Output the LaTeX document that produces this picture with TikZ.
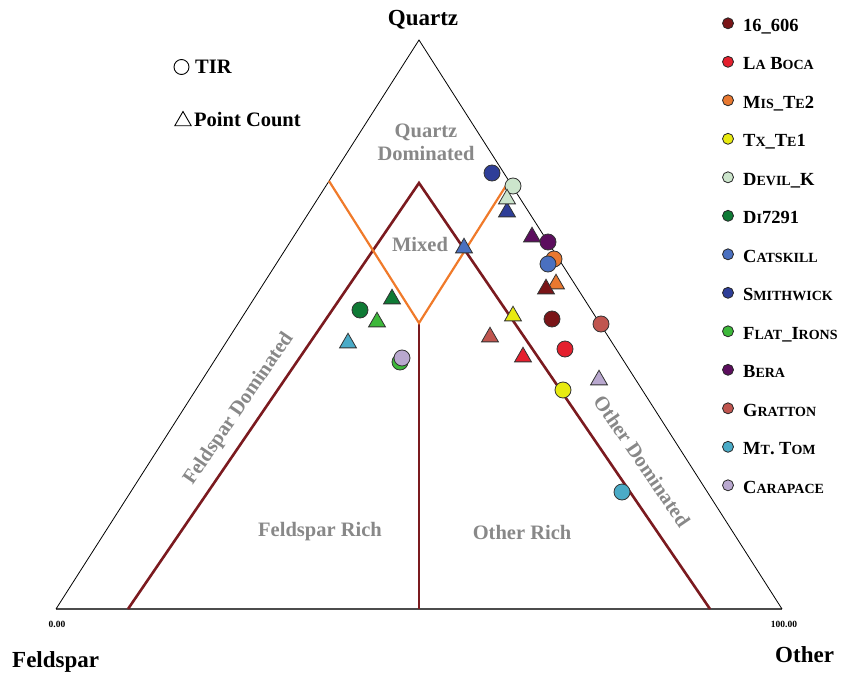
\documentclass[tikz,border=0pt]{standalone}
\usepackage{fontspec}
\setmainfont{Liberation Serif}
\usetikzlibrary{shapes.geometric}
\definecolor{cA}{HTML}{7A1518}
\definecolor{cB}{HTML}{E4202E}
\definecolor{cC}{HTML}{E87830}
\definecolor{cD}{HTML}{E8EA10}
\definecolor{cE}{HTML}{CCE5CC}
\definecolor{cF}{HTML}{0F7A35}
\definecolor{cG}{HTML}{4A70C0}
\definecolor{cH}{HTML}{2E3E98}
\definecolor{cI}{HTML}{3DB83A}
\definecolor{cJ}{HTML}{5C0E5E}
\definecolor{cK}{HTML}{C0554F}
\definecolor{cL}{HTML}{4AABC7}
\definecolor{cM}{HTML}{B9A8CF}
\definecolor{redline}{HTML}{7B1A1F}
\definecolor{orangeline}{HTML}{F07A2A}
\definecolor{regiongray}{HTML}{888888}
\newcommand\sk[1]{{\fontsize{14}{14}\selectfont #1}}
\begin{document}
\begin{tikzpicture}[x=1pt,y=-1pt,
  samp/.style={circle,draw=black!80,line width=0.8pt,minimum size=16pt,inner sep=0pt},
  tri/.style={regular polygon,regular polygon sides=3,draw=black!80,line width=0.8pt,minimum size=19.5pt,inner sep=0pt},
  legdot/.style={circle,draw=black!85,line width=0.8pt,minimum size=11pt,inner sep=0pt},
  legtext/.style={anchor=base west,inner sep=0pt,font=\bfseries\fontsize{18.5}{18.5}\selectfont},
  cornerlab/.style={inner sep=0pt,font=\bfseries\fontsize{23}{23}\selectfont},
  regionlab/.style={inner sep=0pt,text=regiongray,align=center,font=\bfseries\fontsize{20.5}{23}\selectfont},
  ticklab/.style={inner sep=0pt,font=\bfseries\fontsize{9.5}{9.5}\selectfont},
  keytext/.style={anchor=base west,inner sep=0pt,font=\bfseries\fontsize{20.5}{20.5}\selectfont},
  edge/.style={black,line width=0.8pt},
  baseedge/.style={black!70,line width=1.6pt},
  redbound/.style={redline,line width=2.6pt},
  orangebound/.style={orangeline,line width=2.2pt}]
\useasboundingbox (0,0) rectangle (849,677);
% corners
\coordinate (F) at (56,609);
\coordinate (O) at (782,609);
\coordinate (Q) at (419,40);
% boundary points
\coordinate (rl) at (128,609);
\coordinate (rp) at (419,183);
\coordinate (rr) at (710,609);
\coordinate (rm) at (419,323);
\coordinate (rb) at (419,609);
\coordinate (ol) at (329,181);
\coordinate (or) at (509,181);
% triangle
\draw[baseedge] (F) -- (O);
\draw[edge] (F) -- (Q) -- (O);
% boundaries
\draw[redbound] (rl) -- (rp) -- (rr);
\draw[redbound] (rm) -- (rb);
\draw[orangebound] (ol) -- (rm) -- (or);
% labels
\node[cornerlab,anchor=base] (lq) at (423,26) {Quartz};
\node[cornerlab,anchor=base west] (lf) at (12,667) {Feldspar};
\node[cornerlab,anchor=base west] (lo) at (775,662) {Other};
\node[ticklab] (t0) at (57,624) {0.00};
\node[ticklab] (t100) at (784,624) {100.00};
\node[regionlab] (rq) at (426,142) {Quartz\\Dominated};
\node[regionlab] (rmx) at (420,244) {Mixed};
\node[regionlab,rotate=55.7] (rfd) at (239,409) {Feldspar Dominated};
\node[regionlab,rotate=-55.7] (rod) at (642,461) {Other Dominated};
\node[regionlab] (rfr) at (320,532) {Feldspar Rich};
\node[regionlab] (ror) at (522,532) {Other Rich};
% symbol key
\node[circle,draw=black,line width=0.9pt,minimum size=15pt,inner sep=0pt] (ktir) at (181.5,67) {};
\node[keytext] (ktirt) at (195,73.5) {TIR};
\node[regular polygon,regular polygon sides=3,draw=black,line width=0.9pt,minimum size=19pt,inner sep=0pt] (kpc) at (183,121) {};
\node[keytext] (kpct) at (194,126) {Point Count};
% legend
\foreach \i/\c/\t in {0/cA/{16\_606},1/cB/{L\sk{A} B\sk{OCA}},2/cC/{M\sk{IS}\_T\sk{E}2},3/cD/{T\sk{X}\_T\sk{E}1},4/cE/{D\sk{EVIL}\_K},5/cF/{D\sk{I}7291},6/cG/{C\sk{ATSKILL}},7/cH/{S\sk{MITHWICK}},8/cI/{F\sk{LAT}\_I\sk{RONS}},9/cJ/{B\sk{ERA}},10/cK/{G\sk{RATTON}},11/cL/{M\sk{T}. T\sk{OM}},12/cM/{C\sk{ARAPACE}}}{
  \node[legdot,fill=\c] (ld\i) at (728,23.3+38.5*\i) {};
  \node[legtext] (lt\i) at (743,31.3+38.5*\i) {\t};
}
% data points
\node[samp,fill=cH] (p1) at (492,173) {};
\node[tri,fill=cH] (p2) at (507,212) {};
\node[samp,fill=cE] (p3) at (513,186) {};
\node[tri,fill=cE] (p4) at (507,199) {};
\node[tri,fill=cJ] (p5) at (532,237) {};
\node[samp,fill=cJ] (p6) at (548,242) {};
\node[samp,fill=cC] (p7) at (554,259) {};
\node[samp,fill=cG] (p8) at (548,264) {};
\node[tri,fill=cG] (p9) at (464,248) {};
\node[tri,fill=cC] (p10) at (556,284) {};
\node[tri,fill=cA] (p11) at (546,289) {};
\node[tri,fill=cD] (p12) at (513,316) {};
\node[samp,fill=cA] (p13) at (552,319) {};
\node[samp,fill=cK] (p14) at (601,324) {};
\node[tri,fill=cK] (p15) at (490,337) {};
\node[tri,fill=cB] (p16) at (523,357) {};
\node[samp,fill=cB] (p17) at (565,349) {};
\node[samp,fill=cD] (p18) at (563,390) {};
\node[tri,fill=cM] (p19) at (599,380) {};
\node[samp,fill=cL] (p20) at (622,492) {};
\node[samp,fill=cF] (p21) at (360,310) {};
\node[tri,fill=cF] (p22) at (392,299) {};
\node[tri,fill=cI] (p23) at (377,322) {};
\node[tri,fill=cL] (p24) at (348,343) {};
\node[samp,fill=cI] (p25) at (400,362) {};
\node[samp,fill=cM] (p26) at (402,358) {};
\end{tikzpicture}
\end{document}
